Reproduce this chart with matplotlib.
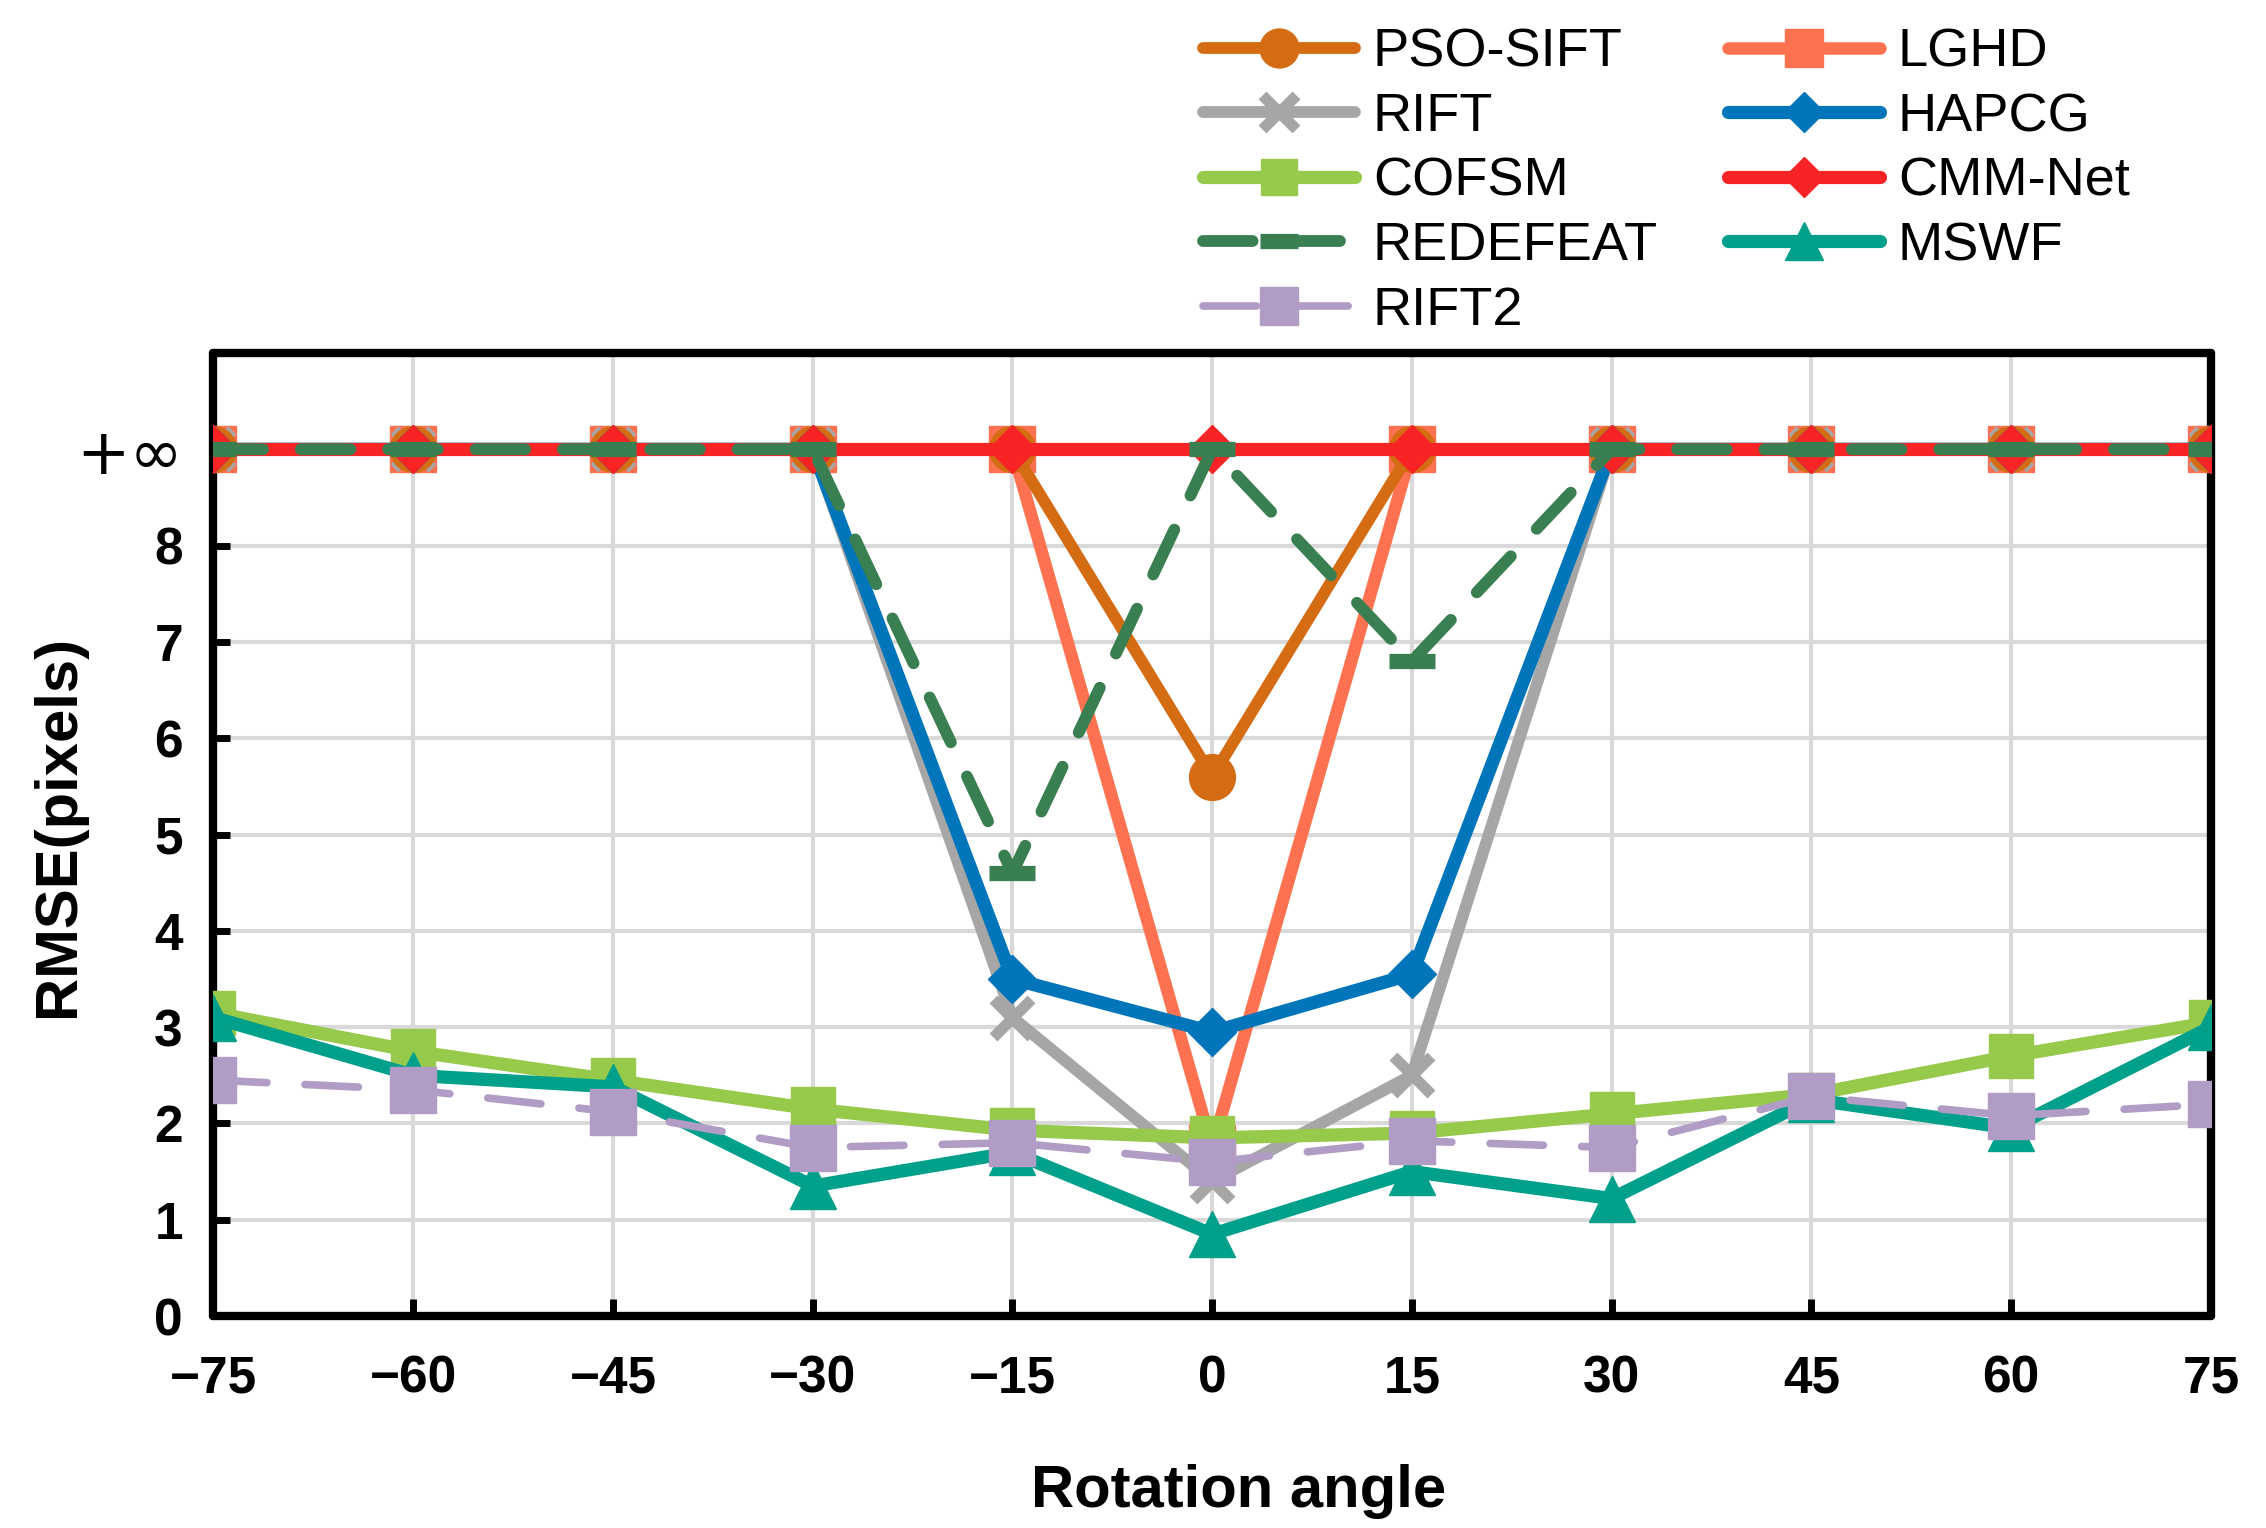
import matplotlib
matplotlib.use("Agg")
import matplotlib.pyplot as plt

plt.rcParams['font.family'] = ["Liberation Sans", "DejaVu Sans"]

INF = 9  # plotted position of "+inf"

angles = [-75, -60, -45, -30, -15, 0, 15, 30, 45, 60, 75]
xtick_labels = ["−75", "−60", "−45", "−30", "−15", "0", "15", "30", "45", "60", "75"]
ytick_vals = [0, 1, 2, 3, 4, 5, 6, 7, 8, 9]
ytick_labels = ["0", "1", "2", "3", "4", "5", "6", "7", "8", "+∞"]

pso_sift = [INF, INF, INF, INF, INF, 5.6, INF, INF, INF, INF, INF]
rift     = [INF, INF, INF, INF, 3.1, 1.4, 2.5, INF, INF, INF, INF]
cofsm    = [3.15, 2.75, 2.45, 2.15, 1.93, 1.85, 1.9, 2.1, 2.3, 2.7, 3.05]
redefeat = [INF, INF, INF, INF, 4.6, INF, 6.8, INF, INF, INF, INF]
rift2    = [2.45, 2.35, 2.12, 1.75, 1.8, 1.6, 1.82, 1.75, 2.28, 2.08, 2.2]
lghd     = [INF, INF, INF, INF, INF, 1.75, INF, INF, INF, INF, INF]
hapcg    = [INF, INF, INF, INF, 3.5, 2.95, 3.55, INF, INF, INF, INF]
cmm_net  = [INF, INF, INF, INF, INF, INF, INF, INF, INF, INF, INF]
mswf     = [3.1, 2.5, 2.38, 1.35, 1.7, 0.85, 1.5, 1.22, 2.25, 1.95, 3.0]

fig = plt.figure(figsize=(22.66, 15.28), dpi=100)
ax = fig.add_axes([0.0942, 0.1387, 0.9757 - 0.0942, 0.769 - 0.1387])

LW = 9.5
MS = 33
common = dict(solid_capstyle='round', dash_capstyle='round', solid_joinstyle='round')

h = {}
h['LGHD'], = ax.plot(angles, lghd, color='#FF7251', marker='s', markersize=MS, linewidth=9,
                     label='LGHD', zorder=3, **common)
h['PSO-SIFT'], = ax.plot(angles, pso_sift, color='#D46C14', marker='o', markersize=MS, linewidth=8.5,
                         label='PSO-SIFT', zorder=4, **common)
h['RIFT'], = ax.plot(angles, rift, color='#A6A6A6', marker='x', markersize=MS - 5, markeredgewidth=8,
                     linewidth=8.5, label='RIFT', zorder=3.5, **common)
h['HAPCG'], = ax.plot(angles, hapcg, color='#0075BA', marker='D', markersize=MS - 9, linewidth=LW,
                      label='HAPCG', zorder=4.5, **common)
h['CMM-Net'], = ax.plot(angles, cmm_net, color='#F82325', marker='D', markersize=MS - 9, linewidth=LW,
                        label='CMM-Net', zorder=5, **common)
h['COFSM'], = ax.plot(angles, cofsm, color='#97C94A', marker='s', markersize=MS - 2, linewidth=LW,
                      label='COFSM', zorder=5.5, **common)
h['MSWF'], = ax.plot(angles, mswf, color='#00A08A', marker='^', markersize=MS, linewidth=LW,
                     label='MSWF', zorder=5.7, **common)
h['RIFT2'], = ax.plot(angles, rift2, color='#B09CC5', marker='s', markersize=MS, linewidth=5.5,
                      linestyle=(0, (7, 5)), dash_capstyle='round', label='RIFT2', zorder=6)
h['REDEFEAT'], = ax.plot(angles, redefeat, color='#3A7F52', marker='_', markersize=MS, markeredgewidth=11,
                         linewidth=8.5, linestyle=(0, (4.2, 3.2)), dash_capstyle='round',
                         label='REDEFEAT', zorder=6.5)

ax.set_xlim(-75, 75)
ax.set_ylim(0, 10)
ax.set_xticks(angles)
ax.set_xticklabels(xtick_labels)
ax.set_yticks(ytick_vals)
ax.set_yticklabels(ytick_labels)

for lbl in ax.get_xticklabels():
    lbl.set_fontsize(37)
    lbl.set_fontweight('bold')
for lbl in ax.get_yticklabels()[:-1]:
    lbl.set_fontsize(37)
    lbl.set_fontweight('bold')
inf_lbl = ax.get_yticklabels()[-1]
inf_lbl.set_fontsize(46)
inf_lbl.set_fontweight('normal')
inf_lbl.set_family(["DejaVu Sans"])

ax.tick_params(axis='both', direction='in', length=12, width=5, color='black')
ax.tick_params(axis='x', pad=28)
ax.tick_params(axis='y', pad=22)
ax.grid(True, color='#D9D9D9', linewidth=3, zorder=0)
ax.set_axisbelow(True)
for s in ax.spines.values():
    s.set_linewidth(6)
    s.set_color('black')
    s.set_capstyle('round')
    s.set_zorder(2)

ax.set_xlabel('Rotation angle', fontsize=43, fontweight='bold')
ax.set_ylabel('RMSE(pixels)', fontsize=43, fontweight='bold')
ax.xaxis.label.set_verticalalignment('center')
ax.yaxis.label.set_verticalalignment('center')
ax.xaxis.set_label_coords(0.513, -0.182)
ax.yaxis.set_label_coords(-0.0778, 0.509)

order = ['PSO-SIFT', 'RIFT', 'COFSM', 'REDEFEAT', 'RIFT2', 'LGHD', 'HAPCG', 'CMM-Net', 'MSWF']
leg = fig.legend([h[k] for k in order], order, ncol=2, loc='upper left',
                 bbox_to_anchor=(0.531, 0.982), frameon=False, fontsize=39,
                 handlelength=2.8, columnspacing=1.3, labelspacing=0.27, handletextpad=0.33,
                 borderpad=0, borderaxespad=0, markerscale=0.85)

fig.savefig('out.png', dpi=100)
